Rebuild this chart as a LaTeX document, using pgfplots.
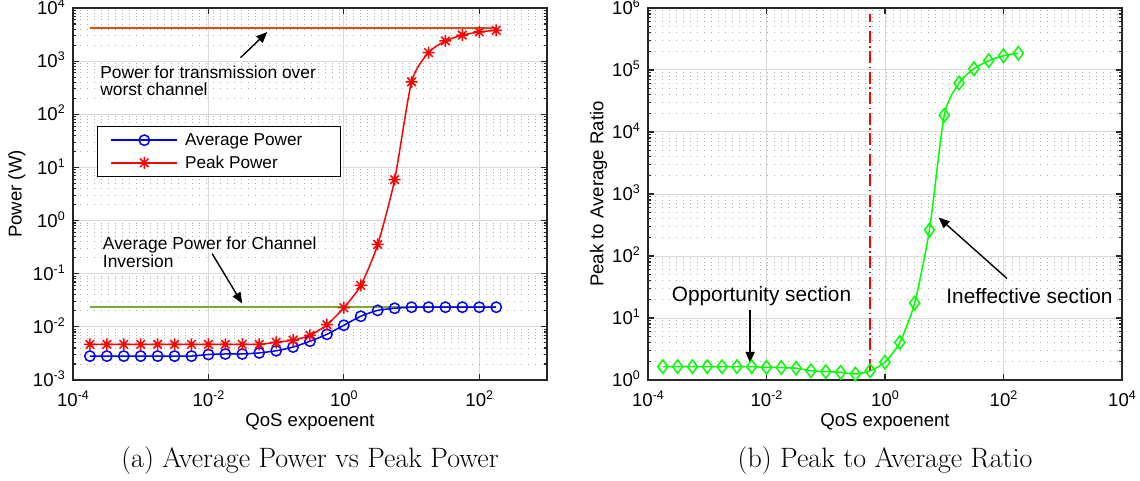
\documentclass[border=0pt]{standalone}
\usepackage{fontspec}
\newfontfamily\hv{Liberation Sans}
\usepackage{pgfplots}
\usepackage{pgfplotstable}
\pgfplotsset{compat=1.18}
\usetikzlibrary{arrows.meta}

\pgfdeclareplotmark{mstar}{%
 \pgfpathmoveto{\pgfqpoint{-\pgfplotmarksize}{0pt}}\pgfpathlineto{\pgfqpoint{\pgfplotmarksize}{0pt}}%
 \pgfpathmoveto{\pgfqpoint{0pt}{-\pgfplotmarksize}}\pgfpathlineto{\pgfqpoint{0pt}{\pgfplotmarksize}}%
 \pgfpathmoveto{\pgfqpoint{-.7071\pgfplotmarksize}{-.7071\pgfplotmarksize}}\pgfpathlineto{\pgfqpoint{.7071\pgfplotmarksize}{.7071\pgfplotmarksize}}%
 \pgfpathmoveto{\pgfqpoint{-.7071\pgfplotmarksize}{.7071\pgfplotmarksize}}\pgfpathlineto{\pgfqpoint{.7071\pgfplotmarksize}{-.7071\pgfplotmarksize}}%
 \pgfusepathqstroke}

\newcommand{\tp}[1]{10\raisebox{7pt}{\fontsize{12.5}{12.5}\selectfont #1}}

\definecolor{mlorange}{rgb}{0.90,0.30,0.08}
\definecolor{mlgreen}{rgb}{0.466,0.674,0.188}

\pgfplotstableread{
x avg peak ratio
1.7783e-4 0.002818 0.004677 1.64
3.1623e-4 0.002818 0.004677 1.64
5.6234e-4 0.002818 0.004677 1.64
1e-3 0.002818 0.004677 1.64
1.7783e-3 0.002818 0.004677 1.64
3.1623e-3 0.002818 0.004677 1.64
5.6234e-3 0.002818 0.004677 1.64
1e-2 0.00302 0.004677 1.60
1.7783e-2 0.00309 0.004677 1.585
3.1623e-2 0.00309 0.004677 1.55
5.6234e-2 0.003236 0.004677 1.41
0.1 0.003548 0.005129 1.365
0.17783 0.004169 0.005623 1.33
0.31623 0.005370 0.006918 1.25
0.56234 0.007244 0.010965 1.41
1 0.010715 0.022909 1.94
1.7783 0.015849 0.060256 4.03
3.1623 0.020417 0.35481 17.4
5.6234 0.022387 5.888 263
10 0.023442 407.4 18620
17.783 0.023442 1445 61660
31.623 0.023442 2399 104700
56.234 0.023442 3090 141250
100 0.023442 3548 169800
177.83 0.023442 3802 186200
}\data

\pgfplotsset{
 legend image code/.code={\draw[mark repeat=2,mark phase=2,#1] plot coordinates {(0pt,0pt) (33pt,0pt) (66pt,0pt)};},
}

\begin{document}
\begin{tikzpicture}
\path[use as bounding box] (0,0) rectangle (1140pt,480pt);

\begin{axis}[name=A, at={(73pt,100pt)}, anchor=south west,
  scale only axis, width=474pt, height=372pt,
  xmode=log, ymode=log,
  xmajorgrids=true, ymajorgrids=true, yminorgrids=true, xminorgrids=false,
  xminorticks=false,
  major grid style={draw=black!15, line width=1pt},
  minor grid style={draw=black!32, line width=1pt, dash pattern=on 1pt off 6pt},
  axis line style={draw=black!85, line width=1.4pt},
  tick style={draw=black!85, line width=1.1pt},
  major tick length=6pt, minor tick length=3.5pt,
  tick align=inside,
  ticklabel style={font=\hv\fontsize{18.6}{20}\selectfont},
  label style={font=\hv\fontsize{18.6}{20}\selectfont},
  xticklabel style={anchor=base, inner sep=0pt, yshift=-26.7pt},
  yticklabel style={anchor=base east, inner sep=0pt, xshift=-8pt, yshift=-6.7pt},
  xlabel style={at={(axis description cs:0.5,0)}, anchor=base, inner sep=0pt, yshift=-46.7pt},
  ylabel style={at={(axis description cs:0,0.5)}, anchor=base, inner sep=0pt, yshift=51.3pt},
  xlabel={QoS expoenent},
  xmin=1e-4, xmax=1e3, ymin=1e-3, ymax=1e4,
  xtick={1e-4,1e-2,1,1e2}, xticklabels={\tp{-4},\tp{-2},\tp{0},\tp{2}},
  ytick={1e-3,1e-2,1e-1,1,1e1,1e2,1e3,1e4},
  yticklabels={\tp{-3},\tp{-2},\tp{-1},\tp{0},\tp{1},\tp{2},\tp{3},\tp{4}},
  ylabel={Power (W)},
  legend style={at={(0.0506,0.683)}, anchor=north west, draw=black, line width=1.2pt, fill=white,
    font=\hv\fontsize{17.2}{19}\selectfont, inner xsep=13pt, inner ysep=7pt, row sep=9pt,
    nodes={inner sep=0pt},
    /tikz/every odd column/.append style={column sep=7pt}},
  legend cell align=left,
]
\addplot[mlgreen, line width=1.6pt, forget plot] coordinates {(1.7783e-4,0.0237) (177.83,0.0237)};
\addplot[mlorange, line width=1.8pt, forget plot] coordinates {(1.7783e-4,4260) (177.83,4260)};
\addplot[blue, line width=1.5pt, mark=o, mark size=5.2pt, smooth, tension=0.4] table[x=x,y=avg]{\data};
\addlegendentry{Average Power\hspace*{25pt}}
\addplot[red, line width=1.5pt, mark=mstar, mark size=6pt, smooth, tension=0.4] table[x=x,y=peak]{\data};
\addlegendentry{Peak Power}

\node[font=\hv\fontsize{17.4}{18}\selectfont, anchor=base west, inner sep=0pt] at (axis cs:2.512e-4,463.4) {Power for transmission over};
\node[font=\hv\fontsize{17.4}{18}\selectfont, anchor=base west, inner sep=0pt] at (axis cs:2.512e-4,222.3) {worst channel};
\draw[line width=1.4pt, -{Triangle[length=11pt,width=9pt]}] (axis cs:0.02979,1164) -- (axis cs:0.07413,3532);
\node[font=\hv\fontsize{17.4}{18}\selectfont, anchor=base west, inner sep=0pt] at (axis cs:2.754e-4,0.2831) {Average Power for Channel};
\node[font=\hv\fontsize{17.4}{18}\selectfont, anchor=base west, inner sep=0pt] at (axis cs:2.754e-4,0.1300) {Inversion};
\draw[line width=1.4pt, -{Triangle[length=11pt,width=9pt]}] (axis cs:0.01135,0.2382) -- (axis cs:0.03155,0.02748);
\end{axis}

\begin{axis}[name=B, at={(648pt,100pt)}, anchor=south west,
  scale only axis, width=474pt, height=372pt,
  xmode=log, ymode=log,
  xmajorgrids=true, ymajorgrids=true, yminorgrids=true, xminorgrids=false,
  xminorticks=false,
  major grid style={draw=black!15, line width=1pt},
  minor grid style={draw=black!32, line width=1pt, dash pattern=on 1pt off 6pt},
  axis line style={draw=black!85, line width=1.4pt},
  tick style={draw=black!85, line width=1.1pt},
  major tick length=6pt, minor tick length=3.5pt,
  tick align=inside,
  ticklabel style={font=\hv\fontsize{18.6}{20}\selectfont},
  label style={font=\hv\fontsize{18.6}{20}\selectfont},
  xticklabel style={anchor=base, inner sep=0pt, yshift=-26.7pt},
  yticklabel style={anchor=base east, inner sep=0pt, xshift=-8pt, yshift=-6.7pt},
  xlabel style={at={(axis description cs:0.5,0)}, anchor=base, inner sep=0pt, yshift=-46.7pt},
  ylabel style={at={(axis description cs:0,0.5)}, anchor=base, inner sep=0pt, yshift=44.7pt},
  xlabel={QoS expoenent},
  xmin=1e-4, xmax=1e4, ymin=1, ymax=1e6,
  xtick={1e-4,1e-2,1,1e2,1e4}, xticklabels={\tp{-4},\tp{-2},\tp{0},\tp{2},\tp{4}},
  ytick={1,1e1,1e2,1e3,1e4,1e5,1e6},
  yticklabels={\tp{0},\tp{1},\tp{2},\tp{3},\tp{4},\tp{5},\tp{6}},
  ylabel={Peak to Average Ratio},
]
\addplot[red, line width=1.5pt, dash pattern=on 12pt off 3.5pt on 1.5pt off 3.5pt] coordinates {(0.56234,1.41) (0.56234,7.9e5)};
\addplot[green, line width=1.5pt, mark=diamond, mark size=6.7pt, smooth, tension=0.4] table[x=x,y=ratio]{\data};

\node[font=\hv\fontsize{20.8}{22}\selectfont, anchor=base west, inner sep=0pt] at (axis cs:2.512e-4,18.58) {Opportunity section};
\node[font=\hv\fontsize{20.8}{22}\selectfont, anchor=base west, inner sep=0pt] at (axis cs:10.81,17.06) {Ineffective section};
\draw[line width=1.4pt, -{Triangle[length=11pt,width=9pt]}] (axis cs:5.284e-3,13.61) -- (axis cs:5.284e-3,1.886);
\draw[line width=1.4pt, -{Triangle[length=11pt,width=9pt]}] (axis cs:114.6,43.35) -- (axis cs:8.017,417.8);
\end{axis}

\node[anchor=base, font=\fontsize{28}{32}\selectfont] at ([yshift=-87pt]A.south) {(a) Average Power vs Peak Power};
\node[anchor=base, font=\fontsize{28}{32}\selectfont] at ([yshift=-87pt]B.south) {(b) Peak to Average Ratio};
\end{tikzpicture}
\end{document}
